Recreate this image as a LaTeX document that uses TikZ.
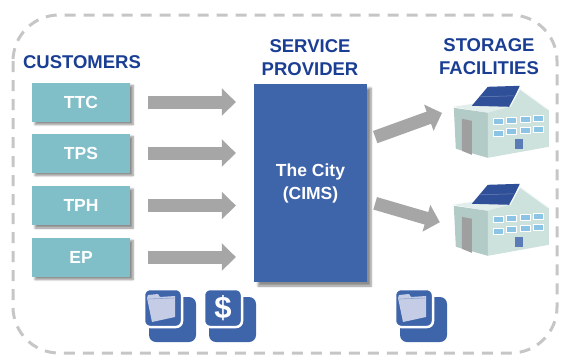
\documentclass[tikz,border=0pt]{standalone}
\usepackage{fontspec}
\setmainfont{Liberation Sans}
\usetikzlibrary{arrows.meta,shadows.blur,calc}

\definecolor{custteal}{HTML}{80BEC8}
\definecolor{cityblue}{HTML}{3E64AA}
\definecolor{titleblue}{HTML}{1A3E93}
\definecolor{arrowgray}{HTML}{A6A6A6}
\definecolor{framegray}{HTML}{C6C6C6}
\definecolor{folderlav}{HTML}{C5CDE6}
\definecolor{roofblue}{HTML}{2F4F98}
\definecolor{wallside}{HTML}{B3CBC6}
\definecolor{wallfront}{HTML}{CDE1DD}
\definecolor{walleave}{HTML}{E2EEEB}
\definecolor{winblue}{HTML}{8CC4E6}

\tikzset{
  % small building with a solar roof, drawn from its top-left corner
  bldg/.pic={
    \fill[walleave] (0,20) -- (20,17) -- (57,19) -- (60,24) -- (35,26) -- cycle;
    \fill[roofblue] (19,19) -- (35,0) -- (67,-1) -- (57,20) -- cycle;
    \draw[roofblue!70!white, line width=0.5pt] (27,10) -- (61,9);
    \fill[wallside] (1,21) -- (35,26) -- (35,71) -- (3,62) -- cycle;
    \fill[gray!75] (9,32) -- (19,34) -- (19,68) -- (9,64) -- cycle;
    \fill[wallfront] (35,26) -- (57,20) -- (67,2) -- (96,23) -- (96,60) -- (35,71) -- cycle;
    \draw[white!80!wallfront, line width=1.2pt] (57,20) -- (67,2) -- (96,23);
    \foreach \i in {0,1,2,3}{
      \fill[winblue, draw=white, line width=0.6pt]
        ({40+\i*13.5},{31-\i*0.9}) rectangle ++(10,6);
      \fill[winblue, draw=white, line width=0.6pt]
        ({40+\i*13.5},{43-\i*1.1}) rectangle ++(10,6);
    }
    \fill[cityblue!85] (62,52) rectangle (70,62);
  },
  % stacked tile icon: back tile and front tile with white rim
  tilebase/.pic={
    \fill[cityblue, rounded corners=7pt] (5,8) rectangle (52,53);
    \draw[white, line width=2.5pt, fill=cityblue, rounded corners=6pt] (0,0) rectangle (38,38);
  },
  foldertile/.pic={
    \pic {tilebase};
    \fill[folderlav] (3,9) -- (4,6) -- (14,5) -- (16,8) -- (31,7) -- (31,28) -- (8,33) -- cycle;
    \draw[cityblue!60, line width=0.6pt] (4,10) -- (30,9);
  },
  dollartile/.pic={
    \pic {tilebase};
    \node[text=white, font=\fontsize{31}{31}\selectfont\bfseries, inner sep=0pt] at (19,19) {\$};
  },
  custbox/.style={fill=custteal, text=white, font=\fontsize{17.5}{20}\selectfont\bfseries,
    minimum width=98pt, minimum height=39pt, inner sep=0pt,
    blur shadow={shadow xshift=3pt, shadow yshift=-3pt, shadow blur steps=6, shadow opacity=45}},
  citybox/.style={fill=cityblue, text=white, font=\fontsize{17.5}{23}\selectfont\bfseries,
    minimum width=113pt, minimum height=198pt, inner sep=0pt, align=center,
    blur shadow={shadow xshift=4pt, shadow yshift=-4pt, shadow blur steps=6, shadow opacity=45}},
  heading/.style={text=titleblue, font=\fontsize{18.5}{23}\selectfont\bfseries, align=center, inner sep=0pt},
  bigarrow/.style={draw=arrowgray, line width=13pt, -{Triangle[width=27pt,length=14pt]}},
  spot/.style={minimum width=95pt, minimum height=68pt, inner sep=0pt},
}

\begin{document}
\begin{tikzpicture}[x=1pt,y=-1pt]
  \useasboundingbox (0,0) rectangle (561,356);

  % dashed outer frame
  \draw[framegray, line width=3pt, dash pattern=on 11pt off 8pt, rounded corners=46pt]
    (13,15) rectangle (557,353);

  % headings
  \node[heading] (hcust) at (82,62) {CUSTOMERS};
  \node[heading] (hserv) at (310,58) {SERVICE\\PROVIDER};
  \node[heading] (hstor) at (489,57) {STORAGE\\FACILITIES};

  % customers
  \node[custbox] (ttc) at (81,102) {TTC};
  \node[custbox] (tps) at (81,153) {TPS};
  \node[custbox] (tph) at (81,205.5) {TPH};
  \node[custbox] (ep)  at (81,257) {EP};

  % service provider
  \node[citybox] (city) at (310.5,183) {The City\\(CIMS)};

  % storage facilities
  \node[spot] (bld1) at (500.5,121) {};
  \node[spot] (bld2) at (500.5,219) {};
  \pic at (bld1.north west) {bldg};
  \pic at (bld2.north west) {bldg};

  % arrows customers -> provider
  \foreach \c in {ttc,tps,tph,ep}{
    \draw[bigarrow, shorten <=18pt, shorten >=18pt] (\c.east) -- (\c.east -| city.west);
  }

  % arrows provider -> storage
  \draw[bigarrow, shorten <=8.5pt, shorten >=11.5pt]
    ([yshift=43pt]city.east) -- ([yshift=12pt]bld1.west);
  \draw[bigarrow, shorten <=8.3pt, shorten >=13.5pt]
    ([yshift=-18pt]city.east) -- ([yshift=-7pt]bld2.west);

  % document and payment icons
  \pic at (144,289) {foldertile};
  \pic at (204,289) {dollartile};
  \pic at (395,289) {foldertile};
\end{tikzpicture}
\end{document}
